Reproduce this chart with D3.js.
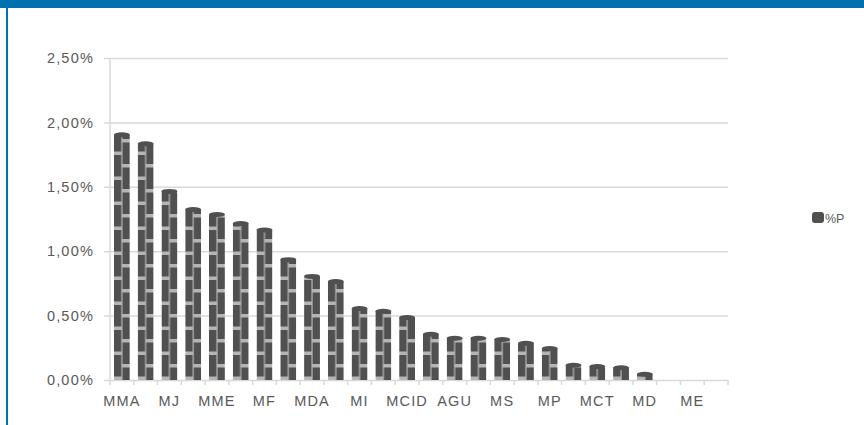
<!DOCTYPE html>
<html>
<head>
<meta charset="utf-8">
<script src="https://cdn.jsdelivr.net/npm/d3@7"></script>
<style>
  body { margin: 0; background: #fff; }
  svg { display: block; font-family: "Liberation Sans", Arial, sans-serif; }
</style>
</head>
<body>
<svg id="chart" width="864" height="425"></svg>
<script>
// tick labels on the category axis (Excel only shows every other one)
const labels = ["MMA", "", "MJ", "", "MME", "", "MF", "", "MDA", "", "MI", "", "MCID",
                "", "AGU", "", "MS", "", "MP", "", "MCT", "", "MD", "", "ME", ""];
// %P values, in percent
const values = [1.92, 1.85, 1.48, 1.34, 1.30, 1.23, 1.18, 0.95, 0.82, 0.78, 0.57, 0.55, 0.50,
                0.37, 0.34, 0.34, 0.33, 0.30, 0.26, 0.13, 0.12, 0.11, 0.06, 0, 0, 0];
const yTicks = [0, 0.5, 1.0, 1.5, 2.0, 2.5];
const seriesName = "%P";

const svg = d3.select('#chart');
const MARGIN = {top: 58, right: 136, bottom: 45, left: 110};
const WIDTH = 864, HEIGHT = 425;

// frame: blue band at top and thin blue line on the left
svg.append('rect').attr('x', 0).attr('y', 0).attr('width', WIDTH).attr('height', 8).attr('fill', '#0070ae');
svg.append('rect').attr('x', 6).attr('y', 0).attr('width', 2).attr('height', HEIGHT).attr('fill', '#0070ae');

const xScale = d3.scaleBand()
    .domain(d3.range(values.length))
    .range([MARGIN.left, WIDTH - MARGIN.right])
    .paddingInner(0.33)
    .paddingOuter(0.165);

const yScale = d3.scaleLinear()
    .domain([0, 2.5])
    .range([HEIGHT - MARGIN.bottom, MARGIN.top]);

const fmt = d => d3.format('.2f')(d).replace('.', ',') + '%';

// gridlines + y labels
const yAxis = d3.axisLeft(yScale)
    .tickValues(yTicks)
    .tickFormat(fmt)
    .tickSize(-(WIDTH - MARGIN.right - MARGIN.left + 6))
    .tickPadding(10);
const gy = svg.append('g')
    .attr('transform', `translate(${MARGIN.left - 6}, 0)`)
    .call(yAxis);
gy.select('.domain').remove();
gy.selectAll('.tick line').attr('stroke', '#d9d9d9').attr('stroke-width', 1.5);
gy.selectAll('.tick text').attr('fill', '#595959').attr('font-size', 14.5).attr('letter-spacing', 1.2);

// vertical axis line
svg.append('line')
    .attr('x1', MARGIN.left).attr('x2', MARGIN.left)
    .attr('y1', yScale(2.5)).attr('y2', yScale(0))
    .attr('stroke', '#d9d9d9').attr('stroke-width', 1.5);

// category ticks at band boundaries
const boundaries = d3.range(values.length + 1).map(i => MARGIN.left + i * xScale.step());
svg.append('g').selectAll('line')
    .data(boundaries)
    .join('line')
    .attr('x1', d => d).attr('x2', d => d)
    .attr('y1', yScale(0)).attr('y2', yScale(0) + 5)
    .attr('stroke', '#d9d9d9').attr('stroke-width', 1.5);

// category labels
const xAxis = d3.axisBottom(xScale)
    .tickFormat(i => labels[i])
    .tickSize(0)
    .tickPadding(16);
const gx = svg.append('g')
    .attr('transform', `translate(0, ${yScale(0)})`)
    .call(xAxis);
gx.select('.domain').remove();
gx.selectAll('.tick text').attr('fill', '#595959').attr('font-size', 14.5).attr('letter-spacing', 1.2);

// brick-like fill imitating the cylinder bars
const defs = svg.append('defs');
const bw = xScale.bandwidth();
const pat = defs.append('pattern')
    .attr('id', 'cyl')
    .attr('patternUnits', 'userSpaceOnUse')
    .attr('x', xScale(0))
    .attr('y', yScale(0))
    .attr('width', xScale.step())
    .attr('height', 25);
pat.append('rect').attr('width', bw).attr('height', 25).attr('fill', '#b5b5b5');
pat.append('rect').attr('x', 0).attr('y', 0).attr('width', bw / 2 - 0.6).attr('height', 21.5).attr('fill', '#505050');
pat.append('rect').attr('x', bw / 2 + 0.6).attr('y', 12.5).attr('width', bw / 2 - 0.6).attr('height', 12.5).attr('fill', '#505050');
pat.append('rect').attr('x', bw / 2 + 0.6).attr('y', 0).attr('width', bw / 2 - 0.6).attr('height', 9).attr('fill', '#505050');

const bars = svg.append('g').selectAll('g')
    .data(values.map((v, i) => ({i, v})).filter(d => d.v > 0))
    .join('g');

bars.append('rect')
    .attr('x', d => xScale(d.i))
    .attr('y', d => yScale(d.v) + 2)
    .attr('width', bw)
    .attr('height', d => Math.max(0, yScale(0) - yScale(d.v) - 2))
    .attr('fill', 'url(#cyl)');

bars.append('ellipse')
    .attr('cx', d => xScale(d.i) + bw / 2)
    .attr('cy', d => yScale(d.v) + 2)
    .attr('rx', bw / 2)
    .attr('ry', 2.5)
    .attr('fill', '#505050');

// legend
const lg = svg.append('g').attr('transform', `translate(812, 212)`);
lg.append('rect').attr('width', 12).attr('height', 11).attr('rx', 3).attr('fill', '#505050');
lg.append('text').attr('x', 13).attr('y', 10.5).attr('font-size', 12.5).attr('fill', '#595959').text(seriesName);
</script>
</body>
</html>
